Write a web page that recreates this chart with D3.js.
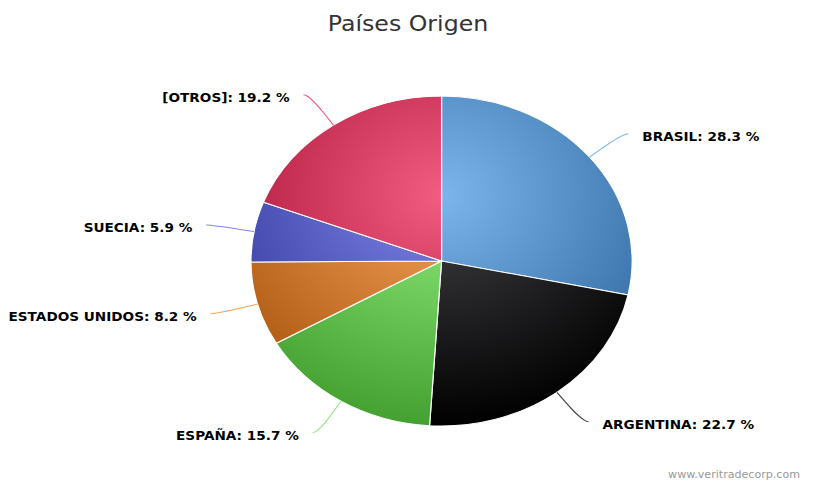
<!DOCTYPE html>
<html>
<head>
    <title>Países Origen</title>
    <meta http-equiv="content-type" content="text/html; charset=UTF-8">
    <script type="text/javascript" src="https://cdn.jsdelivr.net/npm/d3@7"></script>
</head>
<body>

<style>
    body {
        margin: 0;
        background: #fff;
    }

    text {
        font-family: "DejaVu Sans", Verdana, sans-serif;
    }
</style>

<script type="text/javascript">
    var countries = ["BRASIL", "ARGENTINA", "ESPAÑA", "ESTADOS UNIDOS", "SUECIA", "[OTROS]"];
    var shares = [28.3, 22.7, 15.7, 8.2, 5.9, 19.2];
    var colors = ["#7cb5ec", "#434348", "#90ed7d", "#f7a35c", "#8085e9", "#f15c80"];

    var width = 816,
        height = 481,
        sx = 1.155,                 // the picture is stretched horizontally
        cx = 382.3,
        cy = 261,
        radius = 165,
        labelRadius = 202,
        breakRadius = radius + 11;

    // highcharts-like brighten(-0.3)
    function darker(c) {
        var rgb = d3.rgb(c);
        var k = -76;
        return d3.rgb(Math.max(0, rgb.r + k), Math.max(0, rgb.g + k), Math.max(0, rgb.b + k)).formatHex();
    }

    var svg = d3.select("body").append("svg")
        .attr("width", width)
        .attr("height", height);

    var defs = svg.append("defs");
    colors.forEach(function (c, i) {
        var g = defs.append("radialGradient")
            .attr("id", "grad" + i)
            .attr("gradientUnits", "userSpaceOnUse")
            .attr("cx", 0)
            .attr("cy", -radius + 0.3 * 2 * radius)
            .attr("r", 0.7 * 2 * radius);
        g.append("stop").attr("offset", "0%").attr("stop-color", c);
        g.append("stop").attr("offset", "100%").attr("stop-color", darker(c));
    });

    var root = svg.append("g")
        .attr("transform", "scale(" + sx + ",1)");

    root.append("text")
        .attr("x", width / sx / 2)
        .attr("y", 31)
        .attr("text-anchor", "middle")
        .style("font-size", "20.5px")
        .style("fill", "#333333")
        .text("Países Origen");

    var pie = d3.pie().sort(null).value(function (d) { return d; });
    var arcs = pie(shares);
    var arc = d3.arc().innerRadius(0).outerRadius(radius);

    var slices = root.append("g")
        .attr("transform", "translate(" + cx + "," + cy + ")");

    slices.selectAll("path")
        .data(arcs)
        .enter().append("path")
        .attr("d", arc)
        .attr("fill", function (d, i) {
            return "url(#grad" + i + ")";
        })
        .attr("stroke", "#ffffff")
        .attr("stroke-width", 1);

    var labels = arcs.map(function (d, i) {
        var a = (d.startAngle + d.endAngle) / 2;
        var ly = -labelRadius * Math.cos(a);
        var left = a > Math.PI;
        var lx = (left ? -1 : 1) * Math.sqrt(labelRadius * labelRadius - ly * ly);
        return {
            i: i, a: a, x: lx, y: ly, left: left,
            bx: breakRadius * Math.sin(a), by: -breakRadius * Math.cos(a),
            ex: radius * Math.sin(a), ey: -radius * Math.cos(a)
        };
    });

    var lab = root.append("g")
        .attr("transform", "translate(" + cx + "," + cy + ")");

    lab.selectAll("path.connector")
        .data(labels)
        .enter().append("path")
        .attr("class", "connector")
        .attr("fill", "none")
        .attr("stroke", function (d) { return colors[d.i]; })
        .attr("stroke-width", 1)
        .attr("d", function (d) {
            var x0 = d.x + (d.left ? -5 : 5);
            return "M" + x0 + "," + d.y +
                "C" + d.x + "," + d.y + " " +
                (2 * d.bx - d.ex) + "," + (2 * d.by - d.ey) + " " +
                d.bx + "," + d.by +
                "L" + d.ex + "," + d.ey;
        });

    lab.selectAll("text.label")
        .data(labels)
        .enter().append("text")
        .attr("class", "label")
        .attr("x", function (d) { return d.x + (d.left ? -17 : 17); })
        .attr("y", function (d) { return d.y + 7; })
        .attr("text-anchor", function (d) { return d.left ? "end" : "start"; })
        .style("font-size", "11.8px")
        .style("font-weight", "bold")
        .style("fill", "#000000")
        .text(function (d) {
            return countries[d.i] + ": " + shares[d.i].toFixed(1) + " %";
        });

    root.append("text")
        .attr("x", 692.6)
        .attr("y", 478)
        .attr("text-anchor", "end")
        .style("font-size", "9.6px")
        .style("fill", "#999999")
        .text("www.veritradecorp.com");
</script>
</body>
</html>
